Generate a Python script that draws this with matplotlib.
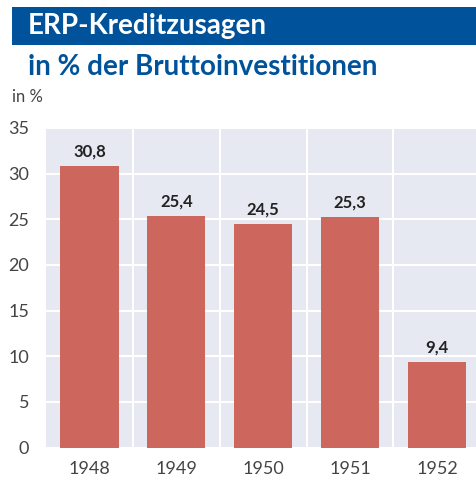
import matplotlib
matplotlib.use("Agg")
import matplotlib.pyplot as plt
from matplotlib.patches import Rectangle

years = ["1948", "1949", "1950", "1951", "1952"]
values = [30.8, 25.4, 24.5, 25.3, 9.4]
labels = ["30,8", "25,4", "24,5", "25,3", "9,4"]

BLUE = "#00529B"
BAR = "#CD665C"
BG = "#E6E8F2"

plt.rcParams["font.family"] = ["Lato", "DejaVu Sans"]

W, H = 476, 480
fig = plt.figure(figsize=(W / 100, H / 100), dpi=100)

# banner with title
fig.patches.append(Rectangle((12 / W, 1 - 45 / H), 1, 38 / H, transform=fig.transFigure,
                             facecolor=BLUE, edgecolor="none"))
fig.text(28 / W, 1 - 26 / H, "ERP-Kreditzusagen", color="white", fontsize=20,
         fontweight="bold", va="center", ha="left")
fig.text(28 / W, 1 - 67 / H, "in % der Bruttoinvestitionen", color=BLUE, fontsize=20,
         fontweight="bold", va="center", ha="left")
fig.text(12 / W, 1 - 97 / H, "in %", color="#444444", fontsize=12, va="center", ha="left")

ax = fig.add_axes([46 / W, 32.5 / H, (W - 46) / W, 319.5 / H])
ax.set_facecolor(BG)
x = range(len(years))
ax.bar(x, values, width=0.67, color=BAR, zorder=3)
for i, (v, t) in enumerate(zip(values, labels)):
    ax.text(i, v + 0.7, t, ha="center", va="bottom", fontsize=12, fontweight="bold",
            color="#222222", zorder=4)

ax.set_xlim(-0.5, 4.45)
ax.set_ylim(0, 35)
ax.set_yticks(range(0, 36, 5))
ax.set_xticks(list(x))
ax.set_xticklabels(years)
ax.set_xticks([0.5, 1.5, 2.5, 3.5], minor=True)
ax.grid(axis="y", which="major", color="white", linewidth=1.5, zorder=0)
ax.grid(axis="x", which="minor", color="white", linewidth=1.5, zorder=0)
ax.set_axisbelow(True)
for s in ax.spines.values():
    s.set_visible(False)
ax.tick_params(axis="both", which="both", length=0, labelsize=13, colors="#444444")
ax.tick_params(axis="x", pad=10)
ax.tick_params(axis="y", pad=12)

fig.savefig("out.png", dpi=100)
